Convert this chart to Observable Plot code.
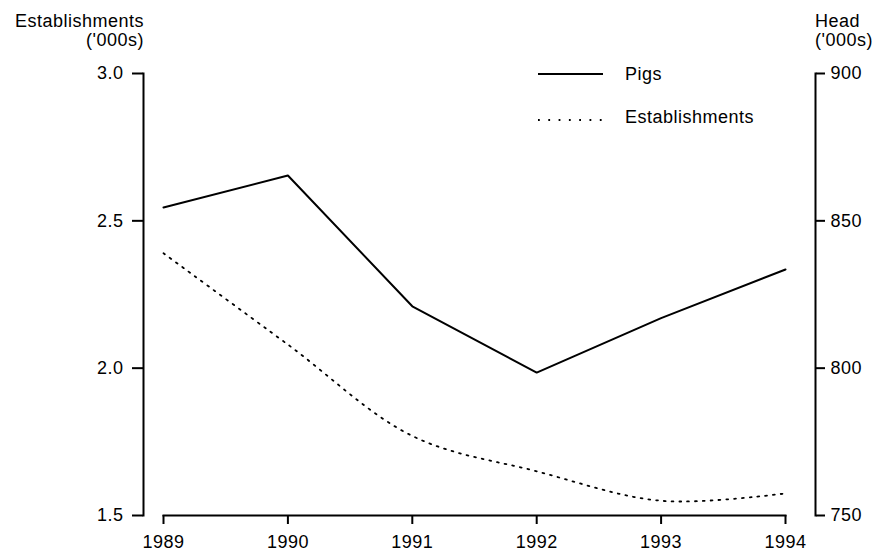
<!DOCTYPE html>
<html>
<head>
<meta charset="utf-8">
<script src="https://cdn.jsdelivr.net/npm/d3@7"></script>
<script src="https://cdn.jsdelivr.net/npm/@observablehq/plot@0.6"></script>
<style>
  html, body { margin: 0; padding: 0; background: #fff; }
  #wrap { position: relative; width: 880px; height: 553px; font-family: "Liberation Sans", Arial, sans-serif; }
  #wrap > svg { position: absolute; left: 0; top: 0; }
  .ov text { font-family: "Liberation Sans", Arial, sans-serif; font-size: 18px; letter-spacing: 0.5px; fill: #000; }
</style>
</head>
<body>
<div id="wrap"></div>
<script>
// ---- data ----
const years = [1989, 1990, 1991, 1992, 1993, 1994];
const pigs = [854.5, 865.4, 821, 798.5, 817, 833.5];          // head, '000s (right axis)
const establishments = [2.39, 2.08, 1.77, 1.65, 1.55, 1.575]; // '000s (left axis)
const leftTicks = [1.5, 2.0, 2.5, 3.0];
const rightTicks = [750, 800, 850, 900];
const seriesNames = ["Pigs", "Establishments"];

// right-axis (head) values mapped onto the left-axis (establishments) scale
const headToEst = d3.scaleLinear().domain([750, 900]).range([1.5, 3.0]);

const pigRows = years.map((y, i) => ({year: y, v: headToEst(pigs[i])}));
const estRows = years.map((y, i) => ({year: y, v: establishments[i]}));

const chart = Plot.plot({
  width: 880,
  height: 553,
  marginTop: 73,
  marginBottom: 38,
  marginLeft: 163,
  marginRight: 95,
  style: {fontFamily: "'Liberation Sans', Arial, sans-serif", fontSize: "18px", letterSpacing: "0.5px", color: "#000", background: "#fff"},
  x: {domain: [1989, 1994]},
  y: {domain: [1.5, 3.0]},
  marks: [
    Plot.frame({anchor: "bottom", stroke: "#000", strokeWidth: 2}),
    Plot.frame({anchor: "left", dx: -20, stroke: "#000", strokeWidth: 2}),
    Plot.frame({anchor: "right", dx: 30, stroke: "#000", strokeWidth: 2}),
    Plot.axisX({ticks: years, tickFormat: "d", tickSize: 9, tickPadding: 11, strokeWidth: 2, label: null}),
    Plot.axisY({anchor: "left", dx: -20, ticks: leftTicks, tickFormat: d3.format(".1f"), tickSize: 11, tickPadding: 9, strokeWidth: 2, label: null}),
    Plot.axisY({anchor: "right", dx: 30, ticks: rightTicks.map(headToEst), tickFormat: d => d3.format("d")(Math.round(headToEst.invert(d))), tickSize: 9, tickPadding: 6, strokeWidth: 2, label: null}),
    Plot.line(estRows, {x: "year", y: "v", stroke: "#000", strokeWidth: 1.8, strokeDasharray: "1.8,6", curve: "catmull-rom"}),
    Plot.line(pigRows, {x: "year", y: "v", stroke: "#000", strokeWidth: 2})
  ]
});

const wrap = document.getElementById("wrap");
wrap.appendChild(chart);

// overlay: axis titles and legend
const ov = d3.select(wrap).append("svg")
  .attr("class", "ov")
  .attr("width", 880).attr("height", 553)
  .style("pointer-events", "none");

ov.append("text").attr("x", 144).attr("y", 27).attr("text-anchor", "end").text("Establishments");
ov.append("text").attr("x", 144).attr("y", 46).attr("text-anchor", "end").text("('000s)");
ov.append("text").attr("x", 815).attr("y", 27).text("Head");
ov.append("text").attr("x", 815).attr("y", 46).text("('000s)");

// legend
const lg = ov.append("g");
lg.append("line").attr("x1", 538).attr("x2", 603).attr("y1", 74).attr("y2", 74)
  .attr("stroke", "#000").attr("stroke-width", 2);
lg.append("text").attr("x", 625).attr("y", 74).attr("dy", "0.35em").text(seriesNames[0]);
lg.append("line").attr("x1", 538).attr("x2", 602).attr("y1", 120).attr("y2", 120)
  .attr("stroke", "#000").attr("stroke-width", 1.8).attr("stroke-dasharray", "1.8,8.5");
lg.append("text").attr("x", 625).attr("y", 117).attr("dy", "0.35em").text(seriesNames[1]);
</script>
</body>
</html>
